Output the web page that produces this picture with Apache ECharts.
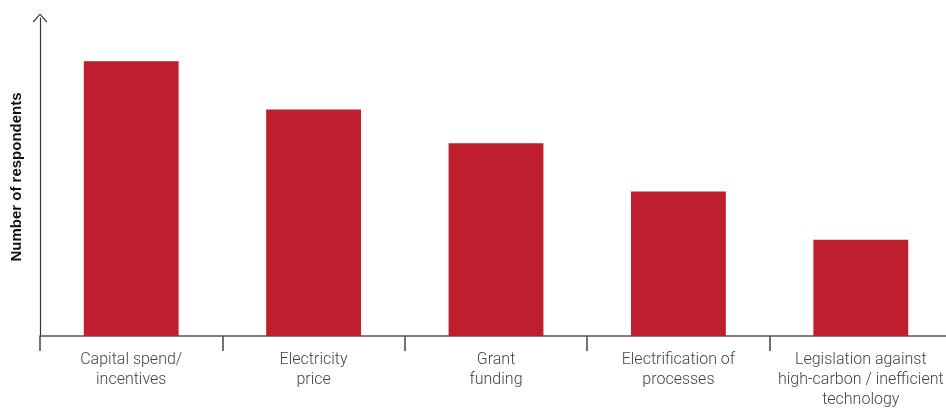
<!DOCTYPE html>
<html>
<head>
<meta charset="utf-8">
<script src="https://cdn.jsdelivr.net/npm/echarts@6/dist/echarts.min.js"></script>
<style>
  html, body { margin: 0; padding: 0; background: #fff; overflow: hidden; }
  #chart { width: 946px; height: 408px; }
</style>
</head>
<body>
<div id="chart"></div>
<script>
// Drivers named by respondents
const categories = [
  'Capital spend/\nincentives',
  'Electricity\nprice',
  'Grant\nfunding',
  'Electrification of\nprocesses',
  'Legislation against\nhigh-carbon / inefficient\ntechnology'
];
const respondents = [57, 47, 40, 30, 20];
const yAxisTitle = 'Number of respondents';

// Open chevron used as the arrow head on the value axis
const chevron = 'path://M0,9 L8,0 L16,9 L15,10 L8,1.6 L1,10 Z';

const chart = echarts.init(document.getElementById('chart'), null, { renderer: 'canvas', width: 946, height: 408 });
chart.setOption({
  animation: false,
  backgroundColor: '#ffffff',
  // plot area runs slightly past the right edge of the canvas
  grid: { left: 40, width: 912, top: 18, bottom: 72, containLabel: false, outerBoundsMode: 'none' },
  xAxis: {
    type: 'category',
    data: categories,
    axisLine: { lineStyle: { color: '#555555', width: 1.5 } },
    axisTick: { show: true, length: 15, lineStyle: { color: '#444444', width: 1.5 } },
    axisLabel: {
      color: '#444444',
      fontFamily: 'Roboto',
      fontWeight: 300,
      fontSize: 16,
      lineHeight: 20,
      margin: 14,
      interval: 0
    }
  },
  yAxis: {
    type: 'value',
    min: 0,
    max: 66,
    name: yAxisTitle,
    nameLocation: 'middle',
    nameGap: 16,
    nameRotate: 90,
    nameTextStyle: {
      color: '#111111',
      fontFamily: 'Liberation Sans',
      fontWeight: 'bold',
      fontSize: 15
    },
    axisLine: {
      show: true,
      symbol: ['none', chevron],
      symbolSize: [16, 9],
      symbolOffset: [0, 0],
      lineStyle: { color: '#333333', width: 1.2 }
    },
    axisTick: { show: false },
    axisLabel: { show: false },
    splitLine: { show: false }
  },
  series: [{
    type: 'bar',
    data: respondents,
    barWidth: '52%',
    itemStyle: { color: '#be1e2d' }
  }]
});
</script>
</body>
</html>
